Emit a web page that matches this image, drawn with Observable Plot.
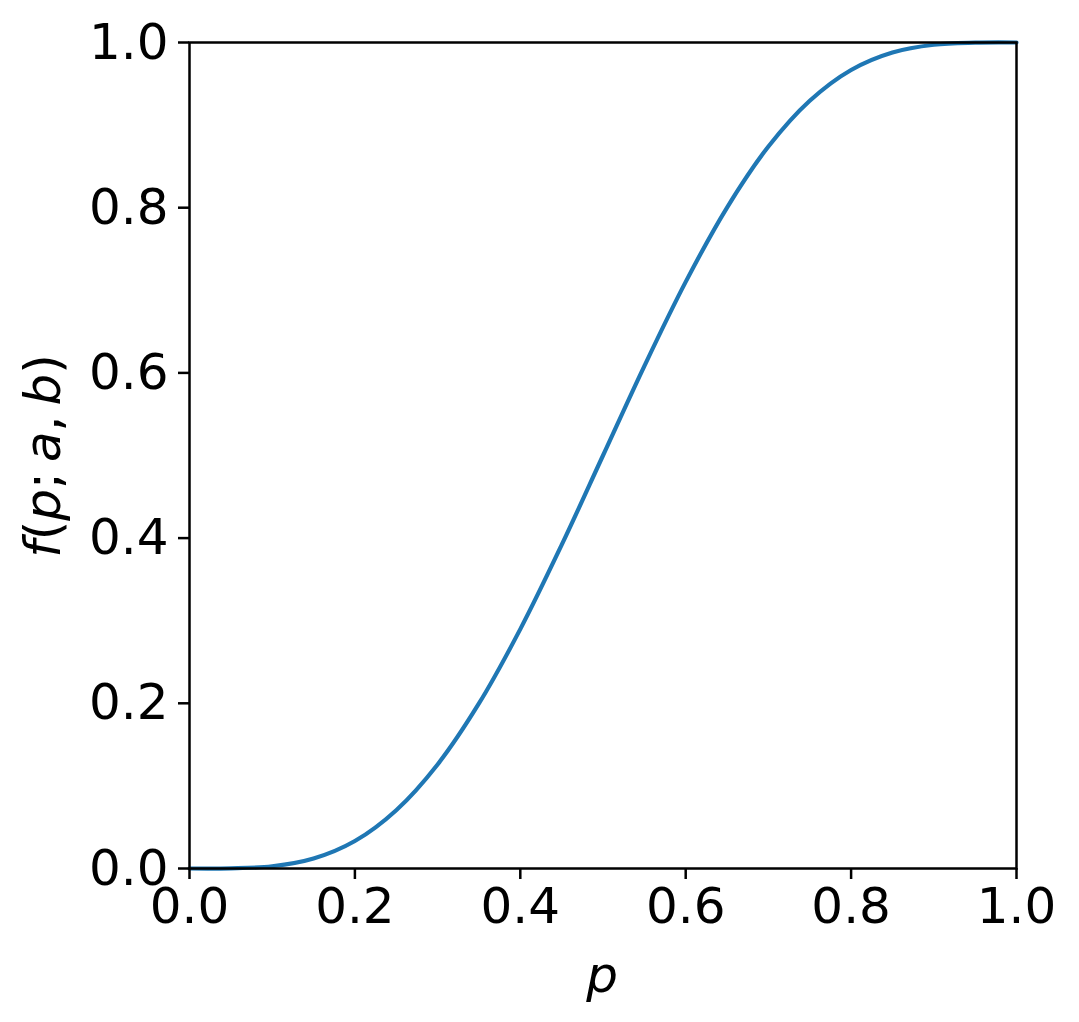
<!DOCTYPE html>
<html>
<head>
<meta charset="utf-8">
<script src="https://cdn.jsdelivr.net/npm/d3@7"></script>
<script src="https://cdn.jsdelivr.net/npm/@observablehq/plot@0.6"></script>
<style>
  html, body { margin: 0; padding: 0; background: #fff; }
  #chart svg { display: block; }
</style>
</head>
<body>
<div id="chart"></div>
<script>
// Curve samples
const pValues = [0, 0.05, 0.1, 0.15, 0.2, 0.25, 0.3, 0.35, 0.4, 0.45, 0.5,
                 0.55, 0.6, 0.65, 0.7, 0.75, 0.8, 0.85, 0.9, 0.95, 1];
const fValues = [0, 0.0002, 0.0027, 0.0121, 0.0333, 0.0706, 0.1260, 0.1998, 0.2898, 0.3917, 0.5,
                 0.6083, 0.7102, 0.8002, 0.8740, 0.9294, 0.9667, 0.9879, 0.9973, 0.9998, 1];
const xTicks = [0, 0.2, 0.4, 0.6, 0.8, 1.0];
const yTicks = [0, 0.2, 0.4, 0.6, 0.8, 1.0];
const xLabel = "p";

const data = pValues.map((p, i) => ({p, f: fValues[i]}));

const W = 1079, H = 1022;
const svg = Plot.plot({
  width: W,
  height: H,
  marginLeft: 189,
  marginRight: 63,
  marginTop: 42,
  marginBottom: 154,
  style: {fontFamily: "DejaVu Sans", fontSize: "50px", color: "#000", background: "#fff"},
  x: {domain: [0, 1], ticks: xTicks, tickFormat: d3.format(".1f"), label: null},
  y: {domain: [0, 1], ticks: yTicks, tickFormat: d3.format(".1f"), label: null},
  marks: [
    Plot.line(data, {x: "p", y: "f", stroke: "#1f77b4", strokeWidth: 4.2, curve: "catmull-rom"}),
    Plot.frame({stroke: "#000", strokeWidth: 2.5}),
    Plot.axisX({ticks: xTicks, tickFormat: d3.format(".1f"), tickSize: 11, tickPadding: 8, strokeWidth: 2.5, label: null}),
    Plot.axisY({ticks: yTicks, tickFormat: d3.format(".1f"), tickSize: 11, tickPadding: 10, strokeWidth: 2.5, label: null})
  ]
});
document.getElementById("chart").appendChild(svg);

// axis labels with matplotlib-like mathtext styling
const s = d3.select(svg);
s.append("text")
  .attr("x", 602).attr("y", 992)
  .attr("text-anchor", "middle")
  .attr("font-family", "DejaVu Sans").attr("font-size", 50)
  .attr("font-style", "italic")
  .text(xLabel);

const yl = s.append("text")
  .attr("transform", "translate(60,456) rotate(-90)")
  .attr("text-anchor", "middle")
  .attr("font-family", "DejaVu Sans").attr("font-size", 50);
const parts = [["f", true], ["(", false], ["p", true], [";\u2009", false], ["a", true], [",\u2009", false], ["b", true], [")", false]];
parts.forEach(([t, it]) => {
  yl.append("tspan").attr("font-style", it ? "italic" : "normal").text(t);
});
</script>
</body>
</html>
